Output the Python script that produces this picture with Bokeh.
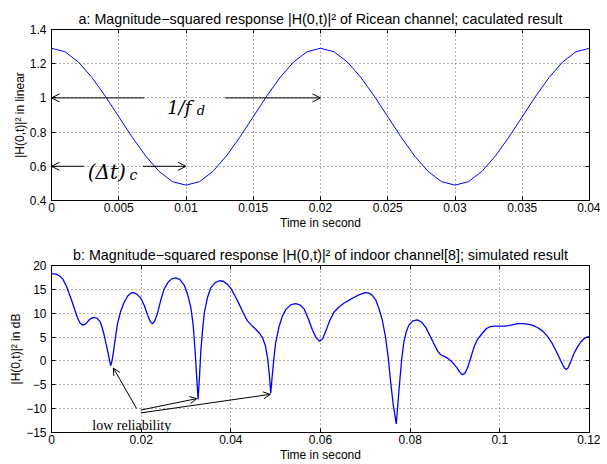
from bokeh.plotting import figure
from bokeh.layouts import column
from bokeh.models import FixedTicker, LinearAxis, Arrow, OpenHead, Label, CustomJSTickFormatter
from bokeh.embed import file_html
from bokeh.resources import INLINE

# ---------------- data: panel a ----------------
top_t = [round(i * 0.001, 3) for i in range(41)]
top_val = [1.29, 1.27, 1.21, 1.12, 1.01, 0.89, 0.77, 0.66, 0.57, 0.51,
           0.49, 0.51, 0.57, 0.66, 0.77, 0.89, 1.01, 1.12, 1.21, 1.27,
           1.29, 1.27, 1.21, 1.12, 1.01, 0.89, 0.77, 0.66, 0.57, 0.51,
           0.49, 0.51, 0.57, 0.66, 0.77, 0.89, 1.01, 1.12, 1.21, 1.27,
           1.29]
top_xticks = [0, 0.005, 0.01, 0.015, 0.02, 0.025, 0.03, 0.035, 0.04]
top_xlabels = ["0", "0.005", "0.01", "0.015", "0.02", "0.025", "0.03", "0.035", "0.04"]
top_yticks = [0.4, 0.6, 0.8, 1.0, 1.2, 1.4]
top_ylabels = ["0.4", "0.6", "0.8", "1", "1.2", "1.4"]

# ---------------- data: panel b ----------------
bot_t = [0.0000, 0.0010, 0.0018, 0.0025, 0.0034, 0.0043, 0.0051, 0.0058, 0.0064, 0.0070,
         0.0077, 0.0084, 0.0090, 0.0096, 0.0102, 0.0108, 0.0113, 0.0117, 0.0121, 0.0125,
         0.0129, 0.0132, 0.0135, 0.0138, 0.0142, 0.0147, 0.0154, 0.0162, 0.0170, 0.0177,
         0.0183, 0.0190, 0.0199, 0.0207, 0.0214, 0.0220, 0.0225, 0.0230, 0.0236, 0.0243,
         0.0251, 0.0260, 0.0268, 0.0277, 0.0286, 0.0296, 0.0304, 0.0311, 0.0316, 0.0320,
         0.0324, 0.0327, 0.0330, 0.0333, 0.0337, 0.0341, 0.0348, 0.0355, 0.0365, 0.0375,
         0.0383, 0.0392, 0.0400, 0.0410, 0.0419, 0.0428, 0.0437, 0.0446, 0.0456, 0.0464,
         0.0471, 0.0477, 0.0482, 0.0486, 0.0489, 0.0492, 0.0496, 0.0500, 0.0507, 0.0515,
         0.0523, 0.0534, 0.0545, 0.0555, 0.0564, 0.0573, 0.0582, 0.0590, 0.0598, 0.0605,
         0.0612, 0.0620, 0.0630, 0.0641, 0.0652, 0.0663, 0.0674, 0.0687, 0.0700, 0.0708,
         0.0715, 0.0723, 0.0730, 0.0738, 0.0745, 0.0751, 0.0756, 0.0762, 0.0769, 0.0773,
         0.0777, 0.0781, 0.0786, 0.0791, 0.0797, 0.0806, 0.0816, 0.0826, 0.0835, 0.0844,
         0.0853, 0.0861, 0.0868, 0.0877, 0.0886, 0.0892, 0.0897, 0.0904, 0.0910, 0.0916,
         0.0922, 0.0927, 0.0934, 0.0942, 0.0950, 0.0961, 0.0970, 0.0979, 0.0990, 0.1000,
         0.1010, 0.1020, 0.1030, 0.1040, 0.1052, 0.1061, 0.1072, 0.1084, 0.1095, 0.1106,
         0.1116, 0.1125, 0.1133, 0.1140, 0.1145, 0.1148, 0.1152, 0.1158, 0.1165, 0.1173,
         0.1180, 0.1187, 0.1194, 0.1200]
bot_db = [18.3, 18.2, 17.8, 17.2, 15.5, 13.2, 11.0, 9.0, 7.9, 7.5,
          7.8, 8.6, 9.0, 9.1, 8.9, 8.3, 7.0, 5.6, 3.9, 2.2,
          0.4, -1.0, 0.0, 1.8, 4.5, 7.7, 10.3, 12.3, 13.6, 14.2,
          14.3, 14.0, 13.2, 11.6, 9.7, 8.3, 7.8, 8.3, 9.8, 12.5,
          15.0, 16.5, 17.2, 17.4, 17.1, 15.9, 13.8, 11.1, 7.5, 2.5,
          -3.5, -8.1, -3.5, 2.0, 6.5, 10.2, 13.3, 15.3, 16.4, 16.8,
          16.7, 16.1, 15.2, 13.5, 11.8, 10.0, 8.4, 7.5, 6.6, 5.8,
          4.8, 3.2, 0.6, -3.0, -6.8, -3.5, 0.5, 3.8, 7.0, 9.4,
          10.8, 11.8, 12.0, 11.7, 10.8, 8.8, 6.5, 4.9, 4.1, 4.7,
          6.3, 8.3, 10.2, 11.3, 12.1, 12.7, 13.3, 13.9, 14.3, 14.2,
          13.8, 12.8, 11.1, 8.5, 5.0, 0.8, -4.0, -9.0, -13.2, -8.5,
          -4.0, 0.3, 4.0, 6.0, 7.5, 8.4, 8.6, 8.1, 7.0, 5.3,
          3.6, 2.1, 1.3, 0.9, 0.4, -0.1, -0.6, -1.4, -2.3, -2.9,
          -2.6, -1.7, 0.3, 2.8, 4.5, 5.8, 6.8, 7.2, 7.3, 7.3,
          7.3, 7.4, 7.6, 7.8, 7.8, 7.7, 7.5, 7.0, 6.3, 5.2,
          3.8, 2.2, 0.6, -0.8, -1.6, -1.8, -1.5, -0.2, 1.5, 2.9,
          3.9, 4.6, 5.0, 5.1]
bot_xticks = [0, 0.02, 0.04, 0.06, 0.08, 0.1, 0.12]
bot_xlabels = ["0", "0.02", "0.04", "0.06", "0.08", "0.1", "0.12"]
bot_yticks = [-15, -10, -5, 0, 5, 10, 15, 20]
bot_ylabels = ["\u221215", "\u221210", "\u22125", "0", "5", "10", "15", "20"]

SANS = "Liberation Sans"
SERIF = "DejaVu Serif"


def box_axis(ticks):
    return LinearAxis(ticker=FixedTicker(ticks=ticks),
                      formatter=CustomJSTickFormatter(code="return ''"),
                      major_tick_in=4, major_tick_out=0, minor_tick_in=0, minor_tick_out=0,
                      major_label_standoff=0, major_label_text_font_size="1px",
                      axis_line_color="black", major_tick_line_color="black")


def style(p, xt, xl, yt, yl, xlab, ylab):
    p.title.align = "center"
    p.title.text_font = SANS
    p.title.text_font_size = "14.3px"
    p.title.text_font_style = "normal"
    p.title.text_color = "black"
    p.title.standoff = 5
    p.outline_line_color = "black"
    p.outline_line_width = 1
    p.outline_line_alpha = 1
    p.background_fill_color = "white"
    p.border_fill_color = "white"
    p.xaxis.ticker = FixedTicker(ticks=xt)
    p.xaxis.major_label_overrides = dict(zip(xt, xl))
    p.yaxis.ticker = FixedTicker(ticks=yt)
    p.yaxis.major_label_overrides = dict(zip(yt, yl))
    p.xaxis.axis_label = xlab
    p.yaxis.axis_label = ylab
    for ax in (p.xaxis[0], p.yaxis[0]):
        ax.major_tick_in = 4
        ax.major_tick_out = 0
        ax.minor_tick_in = 0
        ax.minor_tick_out = 0
        ax.axis_line_color = "black"
        ax.major_tick_line_color = "black"
        ax.major_label_text_font = SANS
        ax.major_label_text_font_size = "12px"
        ax.major_label_text_color = "black"
        ax.axis_label_text_font = SANS
        ax.axis_label_text_font_size = "12px"
        ax.axis_label_text_font_style = "normal"
        ax.axis_label_text_color = "black"
    p.xaxis.major_label_standoff = 2
    p.xaxis.axis_label_standoff = 1
    p.yaxis.major_label_standoff = 5
    p.yaxis.axis_label_standoff = 0
    for g, t in ((p.xgrid, xt), (p.ygrid, yt)):
        g.ticker = FixedTicker(ticks=t)
        g.grid_line_color = "#333333"
        g.grid_line_dash = "1 3"
        g.grid_line_width = 1
        g.grid_line_alpha = 0.8
    p.add_layout(box_axis(yt), "right")
    p.add_layout(box_axis(xt), "above")


# ---------------- panel a ----------------
p1 = figure(width=600, height=234, x_range=(0, 0.04), y_range=(0.4, 1.4),
            output_backend="svg", toolbar_location=None,
            min_border_left=51, min_border_right=11, min_border_top=29, min_border_bottom=34,
            title="a: Magnitude\u2212squared response |H(0,t)|\u00b2 of Ricean channel; caculated result")
style(p1, top_xticks, top_xlabels, top_yticks, top_ylabels, "Time in second", "|H(0,t)|\u00b2 in linear")
p1.line(top_t, top_val, line_color="#0000ff", line_width=1)

head = dict(size=8, line_width=1, line_color="black")
for xs, xe, yy in ((0.0069, 0.0, 1.0), (0.0129, 0.02, 1.0), (0.0024, 0.0, 0.6), (0.0068, 0.01, 0.6)):
    p1.add_layout(Arrow(end=OpenHead(**head), x_start=xs, y_start=yy, x_end=xe, y_end=yy,
                        line_color="black", line_width=1))

p1.add_layout(Label(x=0.0086, y=0.945, text="1/f", text_font=SERIF, text_font_style="italic",
                    text_font_size="18px", text_baseline="alphabetic", text_color="black"))
p1.add_layout(Label(x=0.0108, y=0.928, text="d", text_font=SERIF, text_font_style="italic",
                    text_font_size="13px", text_baseline="alphabetic", text_color="black"))
p1.add_layout(Label(x=0.0027, y=0.565, text="(\u0394t)", text_font=SERIF, text_font_style="italic",
                    text_font_size="20px", text_baseline="alphabetic", text_color="black"))
p1.add_layout(Label(x=0.0058, y=0.55, text="c", text_font=SERIF, text_font_style="italic",
                    text_font_size="14px", text_baseline="alphabetic", text_color="black"))

# ---------------- panel b ----------------
p2 = figure(width=600, height=230, x_range=(0, 0.12), y_range=(-15, 20),
            output_backend="svg", toolbar_location=None,
            min_border_left=51, min_border_right=11, min_border_top=31, min_border_bottom=30,
            title="b: Magnitude\u2212squared response |H(0,t)|\u00b2 of indoor channel[8]; simulated result")
style(p2, bot_xticks, bot_xlabels, bot_yticks, bot_ylabels, "Time in second", "|H(0,t)|\u00b2 in dB")
p2.line(bot_t, bot_db, line_color="#0000ff", line_width=1.3)

head2 = dict(size=7, line_width=1, line_color="black")
for xs, ys, xe, ye in ((0.0190, -10.0, 0.0138, -1.5), (0.0199, -10.3, 0.0324, -7.9),
                       (0.0199, -10.9, 0.0488, -7.0)):
    p2.add_layout(Arrow(end=OpenHead(**head2), x_start=xs, y_start=ys, x_end=xe, y_end=ye,
                        line_color="black", line_width=1))
p2.add_layout(Label(x=0.0091, y=-13.6, text="low reliability", text_font="Liberation Serif",
                    text_font_size="14px", text_baseline="alphabetic", text_color="black"))

layout = column(p1, p2, spacing=0)
open("out.html", "w").write(file_html(layout, INLINE))
